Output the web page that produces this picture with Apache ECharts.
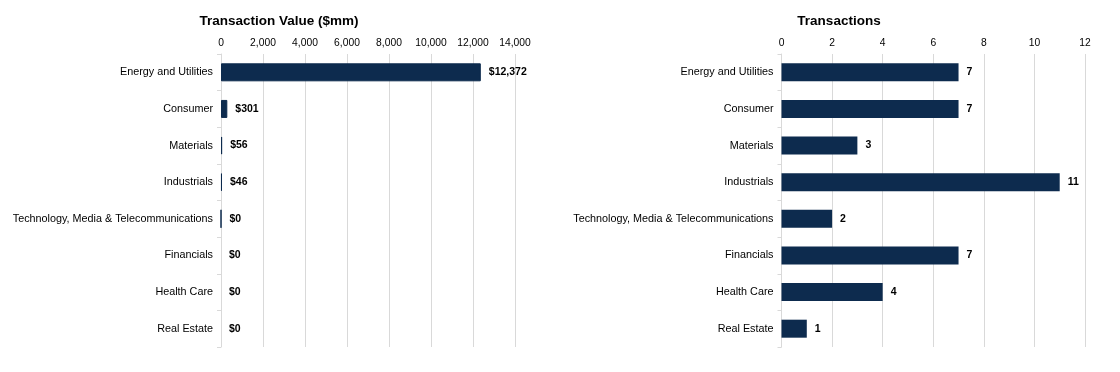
<!DOCTYPE html>
<html>
<head>
<meta charset="utf-8">
<script src="https://cdn.jsdelivr.net/npm/echarts@6/dist/echarts.min.js"></script>
<style>
html,body{margin:0;padding:0;background:#fff;}
#chart{width:1120px;height:372px;}
</style>
</head>
<body>
<div id="chart"></div>
<script>
var categories = ['Energy and Utilities','Consumer','Materials','Industrials','Technology, Media & Telecommunications','Financials','Health Care','Real Estate'];
var valueData = [12372, 301, 56, 46, 0.3, 0, 0, 0];
var countData = [7, 7, 3, 11, 2, 7, 4, 1];
var valueTicks = [0, 2000, 4000, 6000, 8000, 10000, 12000, 14000];
var countTicks = [0, 2, 4, 6, 8, 10, 12];
var titles = ['Transaction Value ($mm)', 'Transactions'];

var BAR = '#0d2b4e';
var GRID = '#d9d9d9';
var FONT = '"Liberation Sans", Arial, sans-serif';

function fmtNum(v){ return Math.round(v).toString().replace(/\B(?=(\d{3})+(?!\d))/g, ','); }

function catAxis(idx){
  return {
    type:'category', gridIndex: idx, data: categories, inverse: true,
    axisLine:{show:true, lineStyle:{color:GRID, width:1}},
    axisTick:{show:true, length:4, lineStyle:{color:GRID}},
    axisLabel:{color:'#000', fontSize:10.8, fontFamily:FONT, margin:8},
    splitLine:{show:false}
  };
}
function valAxis(idx, ticks){
  return {
    type:'value', gridIndex: idx, position:'top',
    min: ticks[0], max: ticks[ticks.length-1], interval: ticks[1]-ticks[0],
    axisLine:{show:false}, axisTick:{show:false},
    axisLabel:{color:'#000', fontSize:10.3, fontFamily:FONT, margin:6, formatter:function(v){return fmtNum(v);}},
    splitLine:{show:true, lineStyle:{color:GRID, width:1}}
  };
}

var chart = echarts.init(document.getElementById('chart'), null, {renderer:'canvas'});
chart.setOption({
  animation:false,
  backgroundColor:'#fff',
  title:[
    {text:titles[0], left:274, top:9, textAlign:'center', textStyle:{fontSize:13.5, fontWeight:'bold', color:'#000', fontFamily:FONT}},
    {text:titles[1], left:834, top:9, textAlign:'center', textStyle:{fontSize:13.5, fontWeight:'bold', color:'#000', fontFamily:FONT}}
  ],
  grid:[
    {left:221, top:54, width:294, height:293, containLabel:false},
    {left:781.5, top:54, width:303.5, height:293, containLabel:false}
  ],
  yAxis:[catAxis(0), catAxis(1)],
  xAxis:[valAxis(0, valueTicks), valAxis(1, countTicks)],
  series:[
    {
      type:'bar', xAxisIndex:0, yAxisIndex:0, barWidth:18,
      data: valueData.map(function(v){
        return v > 0 ? {value:v, itemStyle:{borderColor:BAR, borderWidth:1}} : {value:v};
      }),
      itemStyle:{color:BAR},
      label:{show:true, position:'right', distance:8, color:'#000', fontSize:10.5, fontWeight:'bold', fontFamily:FONT,
        formatter:function(p){return '$' + fmtNum(p.value);}}
    },
    {
      type:'bar', xAxisIndex:1, yAxisIndex:1, barWidth:18,
      data: countData,
      itemStyle:{color:BAR},
      label:{show:true, position:'right', distance:8, color:'#000', fontSize:10.5, fontWeight:'bold', fontFamily:FONT,
        formatter:function(p){return fmtNum(p.value);}}
    }
  ]
});
</script>
</body>
</html>
